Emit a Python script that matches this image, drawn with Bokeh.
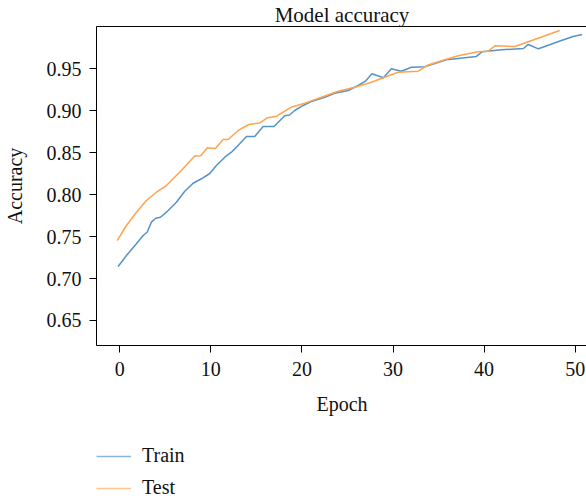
from bokeh.plotting import figure
from bokeh.layouts import column
from bokeh.models import Range1d, FixedTicker, LinearAxis, Legend, LegendItem, CustomJSTickFormatter
from bokeh.embed import file_html
from bokeh.resources import INLINE

# ---- data ----
train_epoch = [-0.18, 0.74, 1.83, 2.57, 3.01, 3.48, 3.95, 4.47, 5.13, 6.22, 7.14, 8.06, 8.97, 9.88,
               10.61, 11.53, 12.26, 12.81, 13.91, 14.82, 15.74, 16.93, 18.11, 18.63, 19.21, 20.13,
               21.04, 22.50, 23.60, 25.07, 26.17, 26.97, 27.68, 28.95, 29.82, 30.92, 32.02, 33.48,
               35.86, 39.15, 39.81, 41.90, 44.31, 44.86, 45.96, 48.49, 49.77, 50.76]
train_acc = [0.7144, 0.7275, 0.7414, 0.7513, 0.7552, 0.7672, 0.7719, 0.7731, 0.7791, 0.7910, 0.8041,
             0.8136, 0.8189, 0.8252, 0.8347, 0.8446, 0.8506, 0.8566, 0.8693, 0.8693, 0.8812, 0.8812,
             0.8941, 0.8949, 0.9003, 0.9063, 0.9110, 0.9161, 0.9209, 0.9241, 0.9301, 0.9352, 0.9440,
             0.9393, 0.9500, 0.9471, 0.9519, 0.9525, 0.9607, 0.9647, 0.9704, 0.9726, 0.9742, 0.9790,
             0.9738, 0.9837, 0.9885, 0.9909]

test_epoch = [-0.29, 0.74, 1.83, 2.93, 4.03, 5.05, 5.86, 6.77, 8.23, 8.89, 9.63, 10.50, 11.35, 11.90,
              13.00, 14.18, 15.37, 16.21, 17.15, 18.11, 18.90, 20.31, 22.14, 23.97, 25.80, 27.63,
              29.09, 30.56, 32.76, 33.85, 35.68, 37.15, 39.34, 40.44, 41.24, 43.36, 44.46, 48.30]
test_acc = [0.7453, 0.7632, 0.7791, 0.7930, 0.8029, 0.8101, 0.8189, 0.8288, 0.8461, 0.8463, 0.8558,
            0.8550, 0.8657, 0.8657, 0.8765, 0.8836, 0.8854, 0.8916, 0.8931, 0.8995, 0.9045, 0.9090,
            0.9161, 0.9233, 0.9281, 0.9340, 0.9400, 0.9459, 0.9471, 0.9545, 0.9607, 0.9655, 0.9703,
            0.9710, 0.9775, 0.9766, 0.9808, 0.9956]

x_ticks = [0, 10, 20, 30, 40, 50]
y_ticks = [0.65, 0.70, 0.75, 0.80, 0.85, 0.90, 0.95]
series_names = ["Train", "Test"]

FONT = "Liberation Serif"
BLUE = "#5593c8"
ORANGE = "#ffa34d"

p = figure(frame_width=491, frame_height=319, output_backend="svg", toolbar_location=None,
           x_range=Range1d(-2.55, 51.35), y_range=Range1d(0.6202, 1.0004),
           min_border_left=87, min_border_right=0, min_border_top=18, min_border_bottom=82)
p.background_fill_color = "white"
p.border_fill_color = "white"
p.outline_line_color = None
p.grid.visible = False

p.title.text = "Model accuracy"
p.title.align = "center"
p.title.text_font = FONT
p.title.text_font_size = "21px"
p.title.text_font_style = "normal"
p.title.text_color = "#111111"
p.title.standoff = 0
p.title.offset = 0

for ax in (p.xaxis[0], p.yaxis[0]):
    ax.axis_line_color = "black"
    ax.axis_line_width = 1
    ax.major_tick_line_color = "black"
    ax.major_tick_out = 7
    ax.major_tick_in = 0
    ax.minor_tick_line_color = None
    ax.major_label_text_font = FONT
    ax.major_label_text_font_size = "20px"
    ax.major_label_text_color = "#111111"
    ax.axis_label_text_font = FONT
    ax.axis_label_text_font_size = "20px"
    ax.axis_label_text_font_style = "normal"
    ax.axis_label_text_color = "#111111"

p.xaxis.ticker = FixedTicker(ticks=x_ticks)
p.yaxis.ticker = FixedTicker(ticks=y_ticks)
p.yaxis.formatter = CustomJSTickFormatter(code="return tick.toFixed(2);")
p.xaxis.axis_label = "Epoch"
p.yaxis.axis_label = "Accuracy"
p.xaxis.major_label_standoff = 9
p.yaxis.major_label_standoff = 8
p.xaxis.axis_label_standoff = 14
p.yaxis.axis_label_standoff = 18

top = LinearAxis(ticker=FixedTicker(ticks=[]), major_label_text_font_size="0px",
                 major_tick_out=0, major_tick_in=0, minor_tick_line_color=None,
                 axis_line_color="black", axis_line_width=1)
p.add_layout(top, "above")

p.line(train_epoch, train_acc, line_color=BLUE, line_width=1.5)
p.line(test_epoch, test_acc, line_color=ORANGE, line_width=1.5)

# legend lives in its own small figure below the chart (its frame shows no data)
lf = figure(width=578, height=72, output_backend="svg", toolbar_location=None,
            x_range=Range1d(-200, -199), y_range=Range1d(0, 1),
            min_border_left=0, min_border_right=0, min_border_top=0, min_border_bottom=0)
lf.axis.visible = False
lf.grid.visible = False
lf.outline_line_color = None
lf.background_fill_color = "white"
lf.border_fill_color = "white"
lg_train = lf.line(train_epoch, train_acc, line_color="#8ab6dd", line_width=1.5)
lg_test = lf.line(test_epoch, test_acc, line_color="#ffc58a", line_width=1.5)

legend = Legend(items=[LegendItem(label=series_names[0], renderers=[lg_train]),
                       LegendItem(label=series_names[1], renderers=[lg_test])],
                location=(0, 0), orientation="vertical",
                border_line_color=None, background_fill_alpha=0,
                label_text_font=FONT, label_text_font_size="20px", label_text_color="#111111",
                glyph_width=35, glyph_height=20, label_height=20, label_standoff=11,
                spacing=9, padding=0, margin=0)
lf.add_layout(legend, "center")

layout = column(p, lf, spacing=0)
open("out.html", "w").write(file_html(layout, INLINE))
